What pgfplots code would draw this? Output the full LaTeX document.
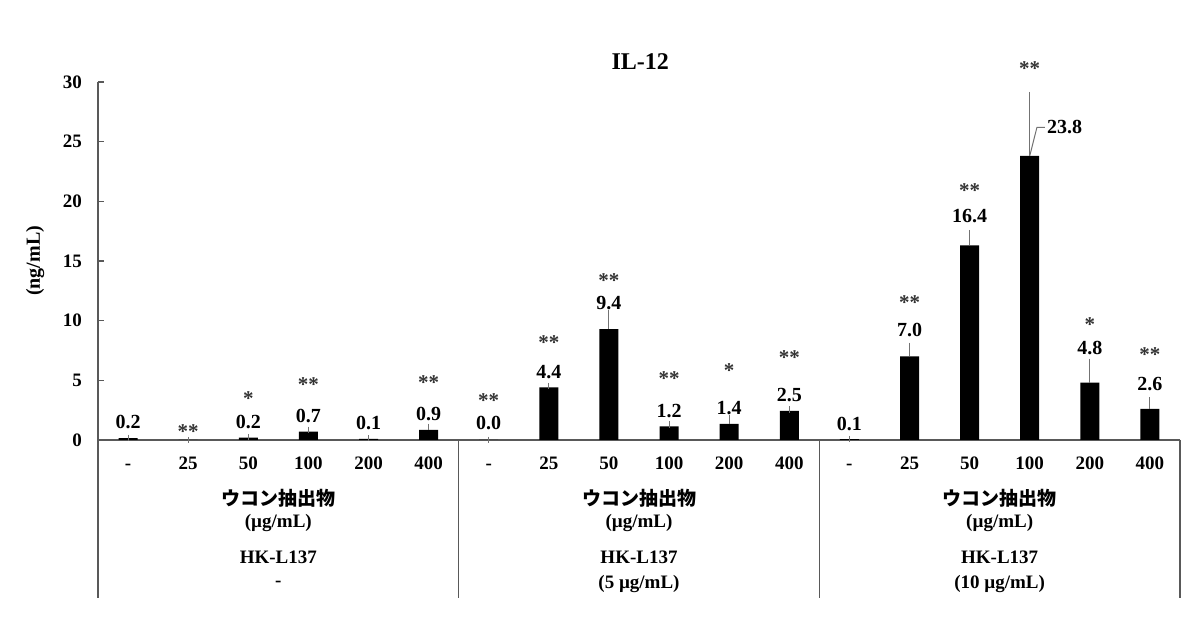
\documentclass[border=0pt]{standalone}
\usepackage{fontspec}
\setmainfont{Liberation Serif}
\newfontfamily\cjk{Noto Sans CJK JP}
\usepackage{pgfplots}
\pgfplotsset{compat=1.18}
\usepackage{pgfplotstable}

\pgfplotstableread{
x y e
0 0.15 0.03
1 0.0 0.0
2 0.2 0.05
3 0.7 0.15
4 0.1 0.05
5 0.85 0.25
6 0.02 0.0
7 4.4 0.12
8 9.3 1.3
9 1.15 0.15
10 1.35 0.45
11 2.45 0.12
12 0.08 0.0
13 7.0 0.9
14 16.3 1.05
15 23.8 5.1
16 4.8 1.75
17 2.6 0.75
}\bars

\pgfplotstableread{
x y l
0 1.5 0.2
2 1.5 0.2
3 2.0 0.7
4 1.4 0.1
5 2.2 0.9
6 1.4 0.0
7 5.7 4.4
8 11.5 9.4
9 2.4 1.2
10 2.7 1.4
11 3.8 2.5
12 1.3 0.1
13 9.2 7.0
14 18.8 16.4
16 7.7 4.8
17 4.7 2.6
}\vals

\pgfplotstableread{
x y l
1 0.9 **
2 3.6 *
3 4.8 **
5 5.0 **
6 3.5 **
7 8.3 **
8 13.5 **
9 5.3 **
10 6.0 *
11 7.1 **
13 11.7 **
14 21.1 **
15 31.3 **
16 9.8 *
17 7.3 **
}\stars

\begin{document}
\begin{tikzpicture}
\begin{axis}[
  at={(49pt,93pt)}, anchor=south west, scale only axis,
  width=541pt, height=179pt,
  xmin=-0.5, xmax=17.5, ymin=0, ymax=30,
  axis x line*=bottom, axis y line*=left,
  axis line style={black!65, line width=0.8pt},
  clip=false,
  ytick={0,5,...,30},
  tick align=inside, major tick length=3pt,
  y tick style={black!65, line width=0.8pt},
  xtick={0,...,17},
  xticklabels={-,25,50,100,200,400,-,25,50,100,200,400,-,25,50,100,200,400},
  x tick style={draw=none},
  xticklabel style={anchor=center, yshift=-11.5pt, text height=0.66em, text depth=0pt},
  yticklabel style={xshift=-4.5pt},
  ticklabel style={font=\bfseries\fontsize{9.5}{11}\selectfont},
  /pgf/number format/assume math mode=true,
  ylabel={(ng/mL)},
  every axis y label/.style={at={(axis description cs:-0.058,0.5)}, rotate=90, anchor=center, font=\bfseries\fontsize{10}{12}\selectfont},
]
\addplot[ybar, bar width=9.5pt, fill=black, draw=none,
  error bars/.cd, y dir=plus, y explicit,
  error bar style={black!55, line width=0.5pt},
  error mark options={black!55, line width=0.5pt, mark size=1.6pt}]
  table[x=x, y=y, y error=e] {\bars};

\addplot[only marks, mark=text, text mark={},
  nodes near coords, point meta=explicit symbolic,
  nodes near coords style={font=\bfseries\fontsize{10}{11}\selectfont, anchor=center, inner sep=0pt}]
  table[x=x, y=y, meta=l] {\vals};

\addplot[only marks, mark=text, text mark={},
  nodes near coords, point meta=explicit symbolic,
  nodes near coords style={font=\bfseries\fontsize{10.5}{11}\selectfont, anchor=center, inner sep=0pt, yshift=-1pt, text=black!80}]
  table[x=x, y=y, meta=l] {\stars};

\draw[black!55, line width=0.5pt] (axis cs:15,23.8) -- (axis cs:15.12,26.2) -- (axis cs:15.25,26.2);
\node[anchor=west, inner sep=1pt, font=\bfseries\fontsize{10}{11}\selectfont] at (axis cs:15.25,26.2) {23.8};

\node[font=\bfseries\fontsize{12}{14}\selectfont] at (axis cs:8.52,31.7) {IL-12};

\draw[black!65, line width=0.8pt] (axis cs:-0.5,0) -- (axis cs:-0.5,-13.25);
\draw[black!65, line width=0.8pt] (axis cs:5.5,0) -- (axis cs:5.5,-13.25);
\draw[black!65, line width=0.8pt] (axis cs:11.5,0) -- (axis cs:11.5,-13.25);
\draw[black!65, line width=0.8pt] (axis cs:17.5,0) -- (axis cs:17.5,-13.25);

\node[font=\cjk\bfseries\fontsize{9.5}{11}\selectfont] at (axis cs:2.5,-4.86) {ウコン抽出物};
\node[font=\bfseries\fontsize{9.5}{11}\selectfont] at (axis cs:2.5,-6.96) {(µg/mL)};
\node[font=\bfseries\fontsize{9.5}{11}\selectfont] at (axis cs:2.5,-9.81) {HK-L137};
\node[font=\cjk\bfseries\fontsize{9.5}{11}\selectfont] at (axis cs:8.5,-4.86) {ウコン抽出物};
\node[font=\bfseries\fontsize{9.5}{11}\selectfont] at (axis cs:8.5,-6.96) {(µg/mL)};
\node[font=\bfseries\fontsize{9.5}{11}\selectfont] at (axis cs:8.5,-9.81) {HK-L137};
\node[font=\cjk\bfseries\fontsize{9.5}{11}\selectfont] at (axis cs:14.5,-4.86) {ウコン抽出物};
\node[font=\bfseries\fontsize{9.5}{11}\selectfont] at (axis cs:14.5,-6.96) {(µg/mL)};
\node[font=\bfseries\fontsize{9.5}{11}\selectfont] at (axis cs:14.5,-9.81) {HK-L137};
\node[font=\bfseries\fontsize{9.5}{11}\selectfont] at (axis cs:2.5,-12.07) {-};
\node[font=\bfseries\fontsize{9.5}{11}\selectfont] at (axis cs:8.5,-12.07) {(5 µg/mL)};
\node[font=\bfseries\fontsize{9.5}{11}\selectfont] at (axis cs:14.5,-12.07) {(10 µg/mL)};
\end{axis}
\pgfresetboundingbox
\path[use as bounding box] (0,0) rectangle (600pt,313pt);
\end{tikzpicture}
\end{document}
